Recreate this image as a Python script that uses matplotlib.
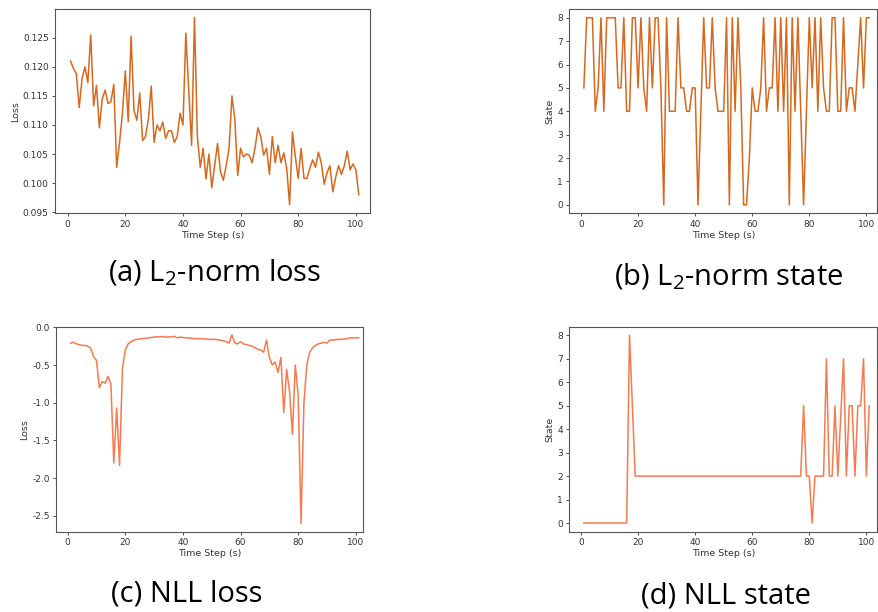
import matplotlib
matplotlib.use("Agg")
import matplotlib.pyplot as plt
import numpy as np

steps = list(range(1, 102))

l2_loss = [0.1210, 0.1197, 0.1188, 0.1130, 0.1180, 0.1200, 0.1173, 0.1255, 0.1133, 0.1168,
           0.1095, 0.1145, 0.1160, 0.1137, 0.1140, 0.1170, 0.1027, 0.1070, 0.1120, 0.1193,
           0.1106, 0.1253, 0.1125, 0.1108, 0.1155, 0.1073, 0.1080, 0.1110, 0.1167, 0.1070,
           0.1100, 0.1090, 0.1105, 0.1077, 0.1090, 0.1090, 0.1070, 0.1080, 0.1120, 0.1100,
           0.1258, 0.1160, 0.1065, 0.1285, 0.1080, 0.1027, 0.1060, 0.1007, 0.1050, 0.0992,
           0.1030, 0.1068, 0.1020, 0.1005, 0.1030, 0.1060, 0.1150, 0.1110, 0.1013, 0.1060,
           0.1045, 0.1050, 0.1048, 0.1035, 0.1060, 0.1095, 0.1080, 0.1048, 0.1060, 0.1015,
           0.1080, 0.1035, 0.1065, 0.1035, 0.1052, 0.1025, 0.0963, 0.1088, 0.1045, 0.1008,
           0.1060, 0.1008, 0.1008, 0.1025, 0.1040, 0.1027, 0.1053, 0.1035, 0.0998, 0.1018,
           0.1030, 0.0985, 0.1010, 0.1030, 0.1015, 0.1030, 0.1055, 0.1023, 0.1033, 0.1023,
           0.0980]

l2_state = [5, 8, 8, 8, 4, 5, 8, 4, 8, 8,
            8, 8, 5, 5, 8, 4, 4, 8, 8, 5,
            8, 5, 4, 8, 5, 8, 8, 5, 0, 8,
            4, 4, 4, 8, 5, 5, 4, 4, 5, 5,
            0, 4, 8, 5, 5, 8, 5, 4, 4, 4,
            8, 0, 8, 4, 8, 5, 0, 0, 2, 5,
            4, 4, 5, 8, 4, 5, 5, 8, 4, 8,
            4, 8, 0, 8, 4, 8, 4, 0, 4, 8,
            5, 8, 4, 8, 5, 4, 4, 8, 8, 4,
            4, 8, 4, 5, 5, 4, 6, 8, 5, 8,
            8]

nll_loss = [-0.21, -0.20, -0.22, -0.23, -0.24, -0.24, -0.25, -0.28, -0.39, -0.44,
            -0.80, -0.72, -0.74, -0.65, -0.75, -1.80, -1.07, -1.83, -0.55, -0.30,
            -0.22, -0.19, -0.17, -0.16, -0.155, -0.15, -0.145, -0.14, -0.135, -0.13,
            -0.125, -0.13, -0.12, -0.13, -0.13, -0.125, -0.12, -0.14, -0.13, -0.135,
            -0.14, -0.14, -0.145, -0.15, -0.15, -0.15, -0.155, -0.155, -0.16, -0.16,
            -0.16, -0.165, -0.17, -0.18, -0.19, -0.21, -0.10, -0.21, -0.22, -0.19,
            -0.22, -0.23, -0.24, -0.25, -0.27, -0.29, -0.30, -0.33, -0.17, -0.40,
            -0.50, -0.46, -0.60, -0.40, -1.13, -0.56, -0.85, -1.42, -0.50, -0.90,
            -2.60, -1.00, -0.50, -0.33, -0.27, -0.24, -0.22, -0.21, -0.20, -0.21,
            -0.17, -0.17, -0.165, -0.16, -0.16, -0.155, -0.15, -0.14, -0.14, -0.14,
            -0.14]

nll_state = [0] * 16 + [8, 5] + [2] * 59 + [5, 2, 2, 0, 2, 2, 2, 2,
             7, 2, 2, 5, 2, 4.5, 7, 2, 5, 5, 2, 5, 5, 7, 2, 5]

captions = [r"(a) L$_{\mathbf{2}}$-norm loss", r"(b) L$_{\mathbf{2}}$-norm state", "(c) NLL loss", "(d) NLL state"]
ylabels = ["Loss", "State", "Loss", "State"]
xlabel = "Time Step (s)"

plt.rcParams['mathtext.fontset'] = 'custom'
plt.rcParams['mathtext.rm'] = 'Open Sans'
plt.rcParams['mathtext.bf'] = 'Open Sans'
plt.rcParams['mathtext.it'] = 'Open Sans:italic'

W, H = 879, 612
fig = plt.figure(figsize=(W / 100, H / 100), dpi=100)

def px_axes(l, r, t, b):
    return fig.add_axes([l / W, 1 - b / H, (r - l) / W, (b - t) / H])

specs = [
    (55, 370, 9.3, 213.3, l2_loss, '#d4691f', (-4.4, 104.9), (0.0948, 0.1299), 0.005),
    (569.3, 877.5, 9.3, 213.3, l2_state, '#d4691f', (-4.1, 103.9), (-0.36, 8.36), 1),
    (56, 363, 326.7, 531.7, nll_loss, '#f47b50', (-4.06, 102.5), (-2.71, 0.008), 0.5),
    (569.3, 877.5, 326.7, 531.7, nll_state, '#f47b50', (-4.1, 103.9), (-0.37, 8.37), 1),
]
cap_pos = [(215, 273), (729, 277), (187, 594), (726, 596)]

for i, (l, r, t, b, ys, col, xl, yl, ystep) in enumerate(specs):
    ax = px_axes(l, r, t, b)
    ax.plot(steps, ys, color=col, lw=1.1)
    ax.set_xlim(*xl)
    ax.set_ylim(*yl)
    ax.set_xticks([0, 20, 40, 60, 80, 100])
    ax.yaxis.set_major_locator(matplotlib.ticker.MultipleLocator(ystep))
    if i == 0:
        ax.yaxis.set_major_formatter(matplotlib.ticker.FormatStrFormatter('%.3f'))
    elif i == 2:
        ax.yaxis.set_major_formatter(matplotlib.ticker.FormatStrFormatter('%.1f'))
    ax.tick_params(labelsize=6.5, length=2.5, width=0.6, colors='#333333', pad=2)
    for s in ax.spines.values():
        s.set_color('#555555')
        s.set_linewidth(0.8)
    ax.set_xlabel(xlabel, fontsize=6.8, labelpad=1.5, color='#333333')
    ax.set_ylabel(ylabels[i], fontsize=6.8, labelpad=2, color='#333333')
    cx, cy = cap_pos[i]
    fig.text(cx / W, 1 - cy / H, captions[i], ha='center', va='center',
             fontsize=21, family='Open Sans', color='black')

fig.savefig("out.png", dpi=100)
